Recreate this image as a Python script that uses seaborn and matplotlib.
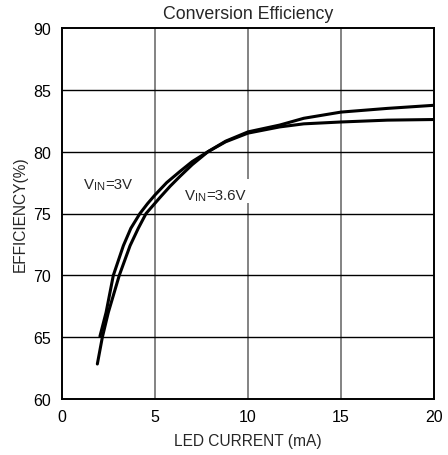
import matplotlib
matplotlib.use("Agg")
import matplotlib.pyplot as plt
import seaborn as sns
import pandas as pd

# Data
current_3v = [2.04, 2.37, 2.76, 3.30, 3.7, 4.19, 4.6, 5.0, 5.63, 6.34, 7.0, 7.85, 8.8, 10.0, 11.7, 13.0, 15.0, 17.5, 20.0]
eff_3v = [65.07, 67.0, 70.0, 72.4, 73.8, 75.0, 75.8, 76.5, 77.5, 78.4, 79.2, 80.0, 80.8, 81.5, 82.0, 82.25, 82.4, 82.55, 82.6]
current_36v = [1.90, 2.17, 2.49, 3.08, 3.66, 4.1, 4.52, 5.27, 5.81, 6.34, 7.0, 7.85, 8.8, 10.0, 11.7, 13.0, 15.0, 17.5, 20.0]
eff_36v = [62.83, 65.0, 67.0, 70.0, 72.4, 73.8, 75.0, 76.3, 77.2, 78.0, 78.95, 80.0, 80.85, 81.6, 82.15, 82.7, 83.2, 83.5, 83.75]
series_names = ["VIN=3V", "VIN=3.6V"]

x_ticks = [0, 5, 10, 15, 20]
y_ticks = [60, 65, 70, 75, 80, 85, 90]

df = pd.concat([
    pd.DataFrame({"current": current_3v, "eff": eff_3v, "series": series_names[0]}),
    pd.DataFrame({"current": current_36v, "eff": eff_36v, "series": series_names[1]}),
])

sns.set_style("white")
plt.rcParams["font.family"] = ["Liberation Sans", "DejaVu Sans"]

fig = plt.figure(figsize=(4.48, 4.56), dpi=100)
ax = fig.add_axes([62 / 448, 56 / 456, 372 / 448, 371 / 456])

# grid
for xv in x_ticks[1:-1]:
    ax.axvline(xv, color="#7a7a7a", lw=1.3, zorder=1)
for yv in y_ticks[1:-1]:
    ax.axhline(yv, color="black", lw=1.0, zorder=1)

sns.lineplot(data=df, x="current", y="eff", hue="series",
             palette=["black", "black"], linewidth=2.2, legend=False,
             sort=False, ax=ax, zorder=3)

ax.set_xlim(0, 20)
ax.set_ylim(60, 90)
ax.set_xticks(x_ticks)
ax.set_yticks(y_ticks)
ax.tick_params(axis="both", length=0, labelsize=11.5, colors="black")
ax.tick_params(axis="x", pad=7)
ax.tick_params(axis="y", pad=8)
for s in ax.spines.values():
    s.set_visible(True)
    s.set_color("black")
    s.set_linewidth(1.4)

ax.set_xlabel("LED CURRENT (mA)", fontsize=11.2, labelpad=7)
ax.set_ylabel("EFFICIENCY(%)", fontsize=11.2, labelpad=4)
ax.set_title("Conversion Efficiency", fontsize=12.8, pad=7)


def vin_label(x, y, rest):
    t1 = ax.text(x, y, "V", fontsize=10.8, va="baseline", ha="left", zorder=5)
    t2 = ax.annotate("IN", xy=(1, 0), xycoords=t1, fontsize=8,
                     va="bottom", ha="left", zorder=5)
    t3 = ax.annotate(rest, xy=(1, 0), xycoords=t2, fontsize=10.8,
                     va="bottom", ha="left", zorder=5)
    return t1, t2, t3


vin_label(1.2, 77.1, "=3V")
# white patch behind second label hides the grid line, as in the reference
ax.add_patch(plt.Rectangle((6.6, 75.85), 3.45, 1.9, facecolor="white",
                           edgecolor="none", zorder=4))
vin_label(6.6, 76.2, "=3.6V")

fig.savefig("out.png", dpi=100)
